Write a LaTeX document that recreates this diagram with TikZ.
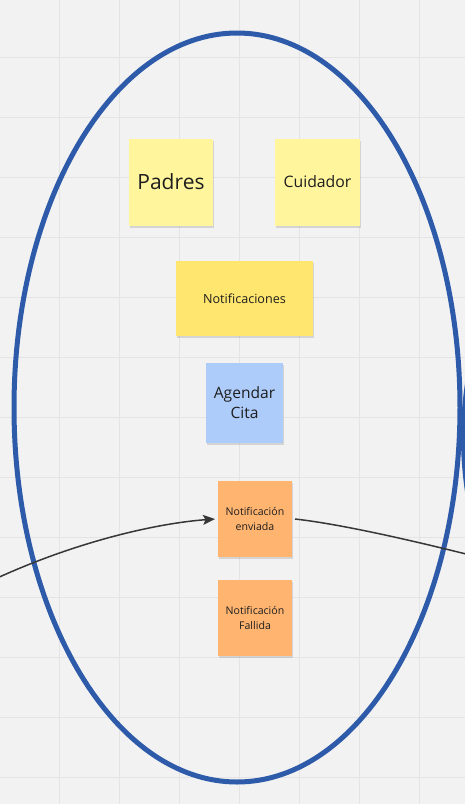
\documentclass[tikz,border=0pt]{standalone}
\usepackage{fontspec}
\setmainfont{Open Sans}
\usetikzlibrary{arrows.meta,shadows}
\definecolor{bgc}{RGB}{242,242,242}
\definecolor{gridc}{RGB}{228,228,228}
\definecolor{blueE}{RGB}{46,90,170}
\definecolor{ylight}{RGB}{255,245,157}
\definecolor{ydark}{RGB}{255,230,110}
\definecolor{bluenote}{RGB}{174,204,250}
\definecolor{orangenote}{RGB}{255,180,112}
\definecolor{txt}{RGB}{30,30,30}
\definecolor{conn}{RGB}{55,55,55}
\tikzset{
  sticky/.style={inner sep=0pt, outer sep=3pt, align=center, text=txt,
    drop shadow={shadow xshift=1pt, shadow yshift=-2pt, opacity=0.12, fill=black}},
  ring/.style={draw=blueE, line width=5pt},
  gridline/.style={draw=gridc, line width=1pt},
  connector/.style={draw=conn, line width=1.5pt}
}
\begin{document}
\begin{tikzpicture}[x=1pt,y=-1pt]
\useasboundingbox (0,0) rectangle (465,804);
\clip (0,0) rectangle (465,804);
\fill[bgc] (0,0) rectangle (465,804);
\foreach \x in {59,119,...,419} \draw[gridline] (\x,0) -- (\x,804);
\foreach \y in {57,117,...,777} \draw[gridline] (0,\y) -- (465,\y);

\draw[ring] (237,407.5) ellipse [x radius=223, y radius=374.5];
\draw[ring] (763.5,437.5) ellipse [x radius=300, y radius=330];

\node[sticky, fill=ylight, minimum width=84pt, minimum height=87pt,
  font=\fontsize{21}{25}\selectfont] (padres) at (171,182) {Padres};
\node[sticky, fill=ylight, minimum width=85pt, minimum height=87pt,
  font=\fontsize{15.8}{19}\selectfont] (cuidador) at (317.5,182) {Cuidador};
\node[sticky, fill=ydark, minimum width=137pt, minimum height=75pt,
  font=\fontsize{12.6}{15}\selectfont] (notif) at (244.5,298.5) {Notificaciones};
\node[sticky, fill=bluenote, minimum width=77pt, minimum height=80pt,
  font=\fontsize{15.6}{20.7}\selectfont] (agendar) at (244.5,402.7) {Agendar\\Cita};
\node[sticky, fill=orangenote, minimum width=74pt, minimum height=76pt,
  font=\fontsize{10.6}{14.3}\selectfont] (enviada) at (255,519) {Notificación\\enviada};
\node[sticky, fill=orangenote, minimum width=74pt, minimum height=76pt,
  font=\fontsize{10.6}{14.3}\selectfont] (fallida) at (255,618) {Notificación\\Fallida};

\coordinate (inL) at (-5,579);
\coordinate (outR) at (470,555);
\draw[connector, -{Stealth[length=12pt,width=10pt,inset=2.5pt]}]
  (inL) .. controls (80,540) and (160,523) .. (enviada.west);
\draw[connector] (enviada.east) .. controls (340,524) and (410,540) .. (outR);
\end{tikzpicture}
\end{document}
